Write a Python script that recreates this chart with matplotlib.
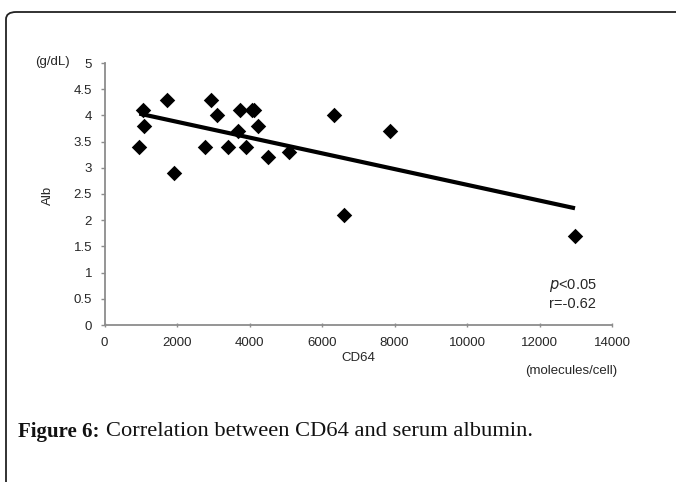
import numpy as np
import matplotlib
matplotlib.use("Agg")
import matplotlib.pyplot as plt
from matplotlib.patches import FancyBboxPatch

cd64 = [960, 1050, 1090, 1730, 1910, 2770, 2940, 3090, 3420, 3690, 3730, 3900,
        4060, 4130, 4240, 4520, 5100, 6340, 6600, 7880, 12980]
alb = [3.4, 4.1, 3.8, 4.3, 2.9, 3.4, 4.3, 4.0, 3.4, 3.7, 4.1, 3.4,
       4.1, 4.1, 3.8, 3.2, 3.3, 4.0, 2.1, 3.7, 1.7]
xticks = [0, 2000, 4000, 6000, 8000, 10000, 12000, 14000]
yticks = [0, 0.5, 1, 1.5, 2, 2.5, 3, 3.5, 4, 4.5, 5]
ytick_labels = ["0", "0.5", "1", "1.5", "2", "2.5", "3", "3.5", "4", "4.5", "5"]

W, H = 676, 482
plt.rcParams['font.family'] = ['Liberation Sans', 'DejaVu Sans']
fig = plt.figure(figsize=(W / 100, H / 100), dpi=100)

# border (rounded, open to right/bottom)
border = FancyBboxPatch((6 / W, -0.2), 1.2, (H - 12) / H + 0.2,
                        boxstyle="round,pad=0,rounding_size=0.015",
                        transform=fig.transFigure, fill=False,
                        edgecolor='#222222', linewidth=1.3, clip_on=False)
fig.patches.append(border)

ax = fig.add_axes([104.5 / W, 1 - 325 / H, (612 - 104.5) / W, (325 - 63) / H])
ax.scatter(cd64, alb, marker='D', s=62, color='black', zorder=3, linewidths=0)

x = np.array(cd64, dtype=float)
y = np.array(alb, dtype=float)
slope, inter = np.polyfit(x, y, 1)
xs = np.array([x.min(), x.max()])
ax.plot(xs, slope * xs + inter, color='black', linewidth=3.0, solid_capstyle='butt', zorder=2)

ax.set_xlim(0, 14000)
ax.set_ylim(0, 5)
ax.set_xticks(xticks)
ax.set_xticklabels([str(v) for v in xticks])
ax.set_yticks(yticks)
ax.set_yticklabels(ytick_labels)
for s in ['top', 'right']:
    ax.spines[s].set_visible(False)
for s in ['left', 'bottom']:
    ax.spines[s].set_color('#8c8c8c')
    ax.spines[s].set_linewidth(1.3)
TC = '#262626'
ax.tick_params(axis='both', colors='#8c8c8c', labelcolor=TC, labelsize=9.5,
               length=3, width=1, direction='inout')
ax.tick_params(axis='y', direction='out', length=3, pad=6)
ax.tick_params(axis='x', pad=7)

fs = 9.5
fig.text(52 / W, 1 - 62 / H, "(g/dL)", ha='center', va='center', fontsize=fs, color=TC)
fig.text(48 / W, 1 - 195 / H, "Alb", ha='center', va='center', fontsize=fs, rotation=90, color=TC)
fig.text(358 / W, 1 - 358 / H, "CD64", ha='center', va='center', fontsize=fs, color=TC)
fig.text(571 / W, 1 - 371 / H, "(molecules/cell)", ha='center', va='center', fontsize=fs, color=TC)
fig.text(549 / W, 1 - 286 / H, r"$\it{p}$<0.05", ha='left', va='center', fontsize=10.5, color=TC)
fig.text(549 / W, 1 - 304 / H, "r=-0.62", ha='left', va='center', fontsize=10.5, color=TC)

serif = ['Liberation Serif', 'DejaVu Serif']
t1 = fig.text(18 / W, 1 - 432 / H, "Figure 6:", ha='left', va='center', fontsize=15,
              fontweight='bold', family=serif, color='#111111')
fig.canvas.draw()
bb = t1.get_window_extent()
fig.text((bb.x1 + 6) / W, 1 - 432 / H, "Correlation between CD64 and serum albumin.", ha='left',
         va='center', fontsize=16.2, family=serif, color='#111111')

fig.savefig("out.png", dpi=100)
